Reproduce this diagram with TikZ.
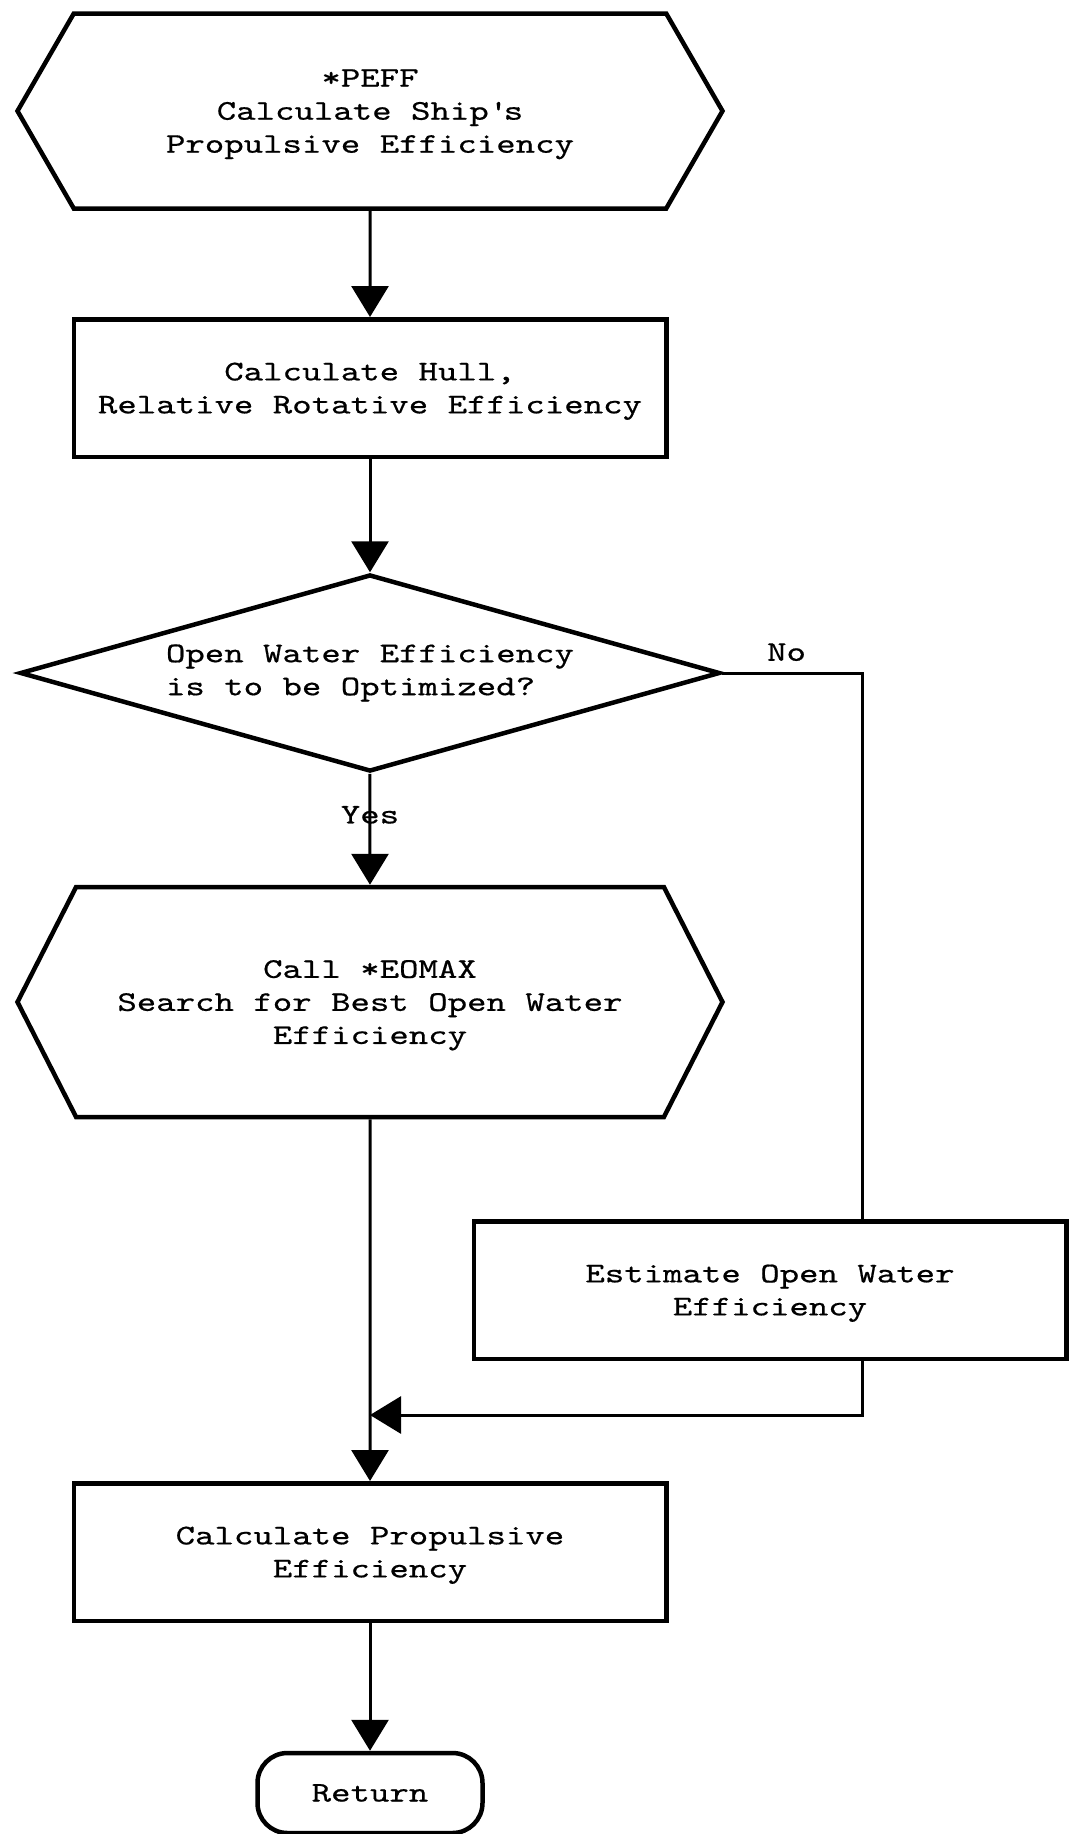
\documentclass[tikz,border=0pt]{standalone}
\usepackage{fontspec}
\newfontfamily\flowfont{lmmono10-regular.otf}[FakeStretch=1.3,FakeBold=0.6]
\usetikzlibrary{arrows.meta,calc,shapes.geometric,shapes.symbols}

\tikzset{
  box/.style={draw,line width=0.09cm,align=center,inner sep=0pt},
  % negative depth sets the text a little low in the box
  lowtext/.style={text depth=-0.32cm},
  procbox/.style={box,lowtext,rectangle,minimum width=11.85cm,minimum height=2.75cm},
  hexbox/.style={box,lowtext,signal,signal to=west and east,signal pointer angle=120,minimum width=14.1cm,minimum height=3.9cm},
  decbox/.style={box,diamond,aspect=3.55,minimum width=14cm,minimum height=3.94cm,align=left},
  endbox/.style={box,rectangle,rounded corners=0.6cm,minimum width=4.5cm,minimum height=1.6cm},
  link/.style={line width=0.06cm},
  flow/.style={link,-{Triangle[length=0.62cm,width=0.74cm]}}
}

\begin{document}
\begin{tikzpicture}[font=\flowfont\fontsize{16.2}{18.8}\selectfont]
\useasboundingbox (0,0) rectangle (21.5,-36.68);
% main column
\node[hexbox] (peff) at (7.4,-2.22) {*PEFF\\Calculate Ship\textquotesingle s\\Propulsive Efficiency};
\node[procbox] (hull) at (7.4,-7.76) {Calculate Hull,\\Relative Rotative Efficiency};
\node[decbox] (dec) at (7.4,-13.46) {Open Water Efficiency\\is to be Optimized?};
\node[hexbox,signal pointer angle=126,minimum height=4.6cm] (eomax) at (7.4,-20.04) {Call *EOMAX\\Search for Best Open Water\\Efficiency};
\node[procbox] (est) at (15.4,-25.8) {Estimate Open Water\\Efficiency};
\node[procbox,text depth=-0.2cm] (prop) at (7.4,-31.04) {Calculate Propulsive\\Efficiency};
\node[endbox] (ret) at (7.4,-35.86) {Return};

% connectors
\coordinate (nocol) at (17.24,-13.46);
\coordinate (join) at (7.4,-28.3);
\draw[flow] (peff) -- (hull);
\draw[flow] (hull) -- (dec);
\draw[flow] (dec) -- node[pos=0.37] {Yes} (eomax);
\draw[link] (dec.east) -- node[above,pos=0.46,inner sep=6pt] {No} (nocol) -- (nocol |- est.north);
\draw[flow] (nocol |- est.south) |- (join);
\draw[flow] (eomax) -- (prop);
\draw[flow] (prop) -- (ret);
\end{tikzpicture}
\end{document}
